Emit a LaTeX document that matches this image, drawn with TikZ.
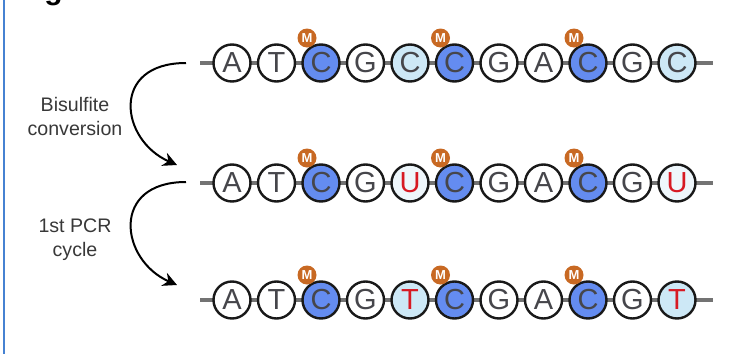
\documentclass[tikz,border=0pt]{standalone}
\usepackage{fontspec}
\setmainfont{Liberation Sans}
\usetikzlibrary{arrows.meta, calc, backgrounds}
\definecolor{methblue} {RGB}{100,140,240}
\definecolor{lightcyt} {RGB}{205,232,246}
\definecolor{paleura}  {RGB}{238,246,251}
\definecolor{badgeorng}{RGB}{200,105, 35}
\definecolor{basered}  {RGB}{215, 25, 35}
\definecolor{basegray} {RGB}{ 70, 70, 75}
\definecolor{frameblue}{RGB}{ 70,130,210}
\begin{document}
\begin{tikzpicture}[x=0.5pt, y=-0.5pt,
  nt/.style={circle, draw=black!90, line width=1.2pt, minimum size=18.5pt,
    inner sep=0pt, fill=white, text=basegray,
    font=\fontsize{14.5}{14.5}\selectfont},
  mc/.style={nt, fill=methblue},
  uc/.style={nt, fill=lightcyt},
  ur/.style={nt, fill=paleura, text=basered},
  tr/.style={nt, fill=lightcyt, text=basered},
  badge/.style={circle, fill=badgeorng, minimum size=9.5pt, inner sep=0pt,
    text=white, font=\fontsize{6.5}{6.5}\selectfont\bfseries},
  backbone/.style={draw=black!55, line width=1.8pt},
  convarr/.style={-{Stealth[length=7pt,width=7pt]}, line width=1pt},
  lbl/.style={align=center, text=black!78,
    font=\fontsize{9.8}{12}\selectfont},
]
\useasboundingbox (0,0) rectangle (740,354);
%% frame and cut caption
\draw[frameblue, line width=1pt] (4,0) -- (4,354);
\node[anchor=base east, inner sep=0pt, font=\fontsize{15}{15}\selectfont\bfseries]
  (figlbl) at (63,-1) {Fig};
%% Row 1 -- genomic DNA
\foreach \b/\s [count=\i] in {A/nt, T/nt, C/mc, G/nt, C/uc, C/mc,
                              G/nt, A/nt, C/mc, G/nt, C/uc}
  \node[\s] (r1-\i) at ({232+(\i-1)*44.5}, 63) {\b};
%% Row 2 -- after bisulfite
\foreach \b/\s [count=\i] in {A/nt, T/nt, C/mc, G/nt, U/ur, C/mc,
                              G/nt, A/nt, C/mc, G/nt, U/ur}
  \node[\s] (r2-\i) at ({232+(\i-1)*44.5}, 183) {\b};
%% Row 3 -- after PCR
\foreach \b/\s [count=\i] in {A/nt, T/nt, C/mc, G/nt, T/tr, C/mc,
                              G/nt, A/nt, C/mc, G/nt, T/tr}
  \node[\s] (r3-\i) at ({232+(\i-1)*44.5}, 300) {\b};
%% Backbones and methyl badges
\begin{pgfonlayer}{background}
\foreach \r in {1,2,3}
  \draw[backbone] ($(r\r-1.center)+(-32,0)$) -- ($(r\r-11.center)+(36,0)$);
\end{pgfonlayer}
\foreach \r in {1,2,3}
  \foreach \k in {3,6,9}
    \node[badge] (m\r-\k) at ($(r\r-\k.center)+(-14,-25)$) {M};
%% Step arrows
\coordinate (bs-start)  at ($(r1-1.center)+(-46,0)$);
\coordinate (bs-end)    at ($(r2-1.center)+(-55,-18)$);
\coordinate (pcr-start) at ($(r2-1.center)+(-46,-1)$);
\coordinate (pcr-end)   at ($(r3-1.center)+(-55,-15)$);
\draw[convarr] (bs-start) .. controls +(-76,0) and +(-57,-25) .. (bs-end);
\draw[convarr] (pcr-start) .. controls +(-76,0) and +(-57,-25) .. (pcr-end);
\node[lbl] (bislbl) at (75,116) {Bisulfite\\conversion};
\node[lbl] (pcrlbl) at (75,240) {1st PCR\\cycle};
\end{tikzpicture}
\end{document}
